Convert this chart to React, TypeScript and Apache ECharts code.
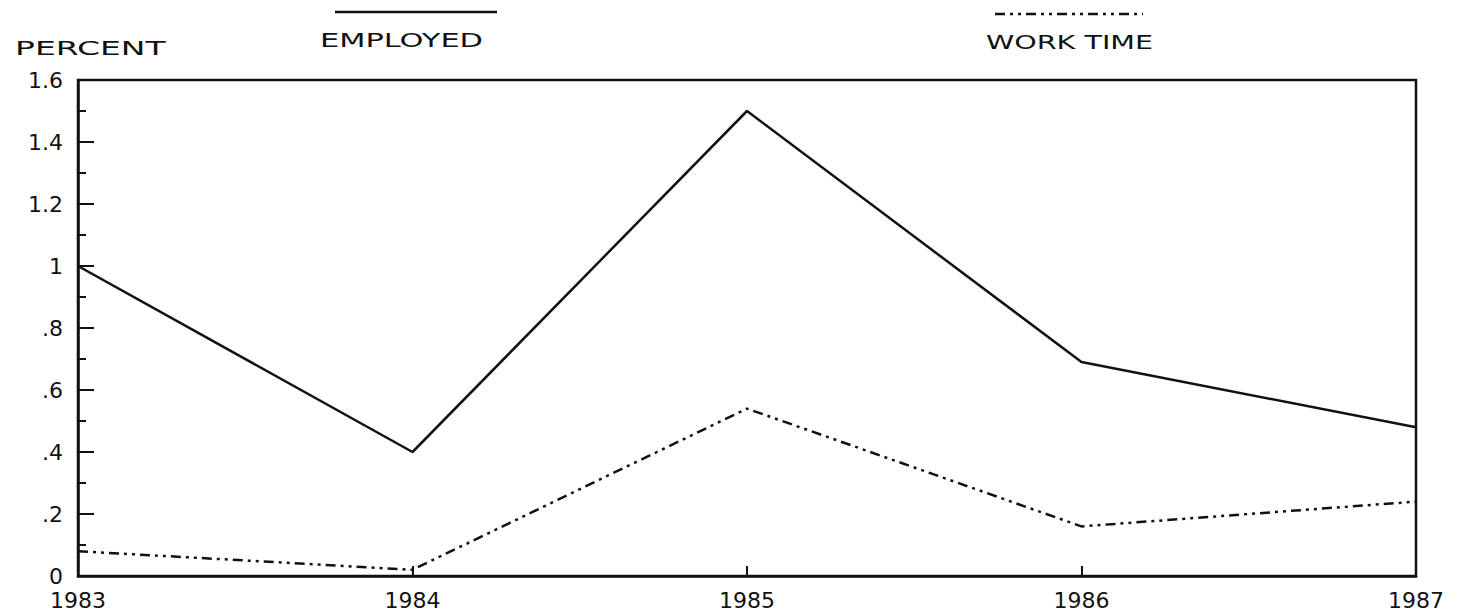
import React, { useEffect, useRef } from "react";
import * as echarts from "echarts";

const years = ["1983", "1984", "1985", "1986", "1987"];
const employed = [1.0, 0.4, 1.5, 0.69, 0.48];
const workTime = [0.08, 0.02, 0.54, 0.16, 0.24];
const yTicks = [0, 0.2, 0.4, 0.6, 0.8, 1, 1.2, 1.4, 1.6];

const FONT = "'DejaVu Sans', sans-serif";
const INK = "#111";
const DASH = [10, 5, 3, 5, 3, 5];

function fmt(v: number): string {
  if (v === 0) return "0";
  const s = String(Math.round(v * 10) / 10);
  return s.startsWith("0.") ? s.slice(1) : s;
}

export default function App() {
  const ref = useRef<HTMLDivElement>(null);
  useEffect(() => {
    if (!ref.current) return;
    const chart = echarts.init(ref.current, null, { renderer: "svg" });
    const label = (text: string, x: number, y: number, sx: number) => ({
      type: "text",
      x,
      y,
      scaleX: sx,
      style: { text, font: `20px ${FONT}`, fill: INK, textVerticalAlign: "top" },
    });
    chart.setOption({
      animation: false,
      backgroundColor: "#fff",
      grid: {
        left: 78,
        right: 48,
        top: 80,
        bottom: 35,
        show: true,
        borderColor: INK,
        borderWidth: 2.5,
        backgroundColor: "transparent",
      },
      xAxis: {
        type: "category",
        data: years,
        boundaryGap: false,
        axisLine: { lineStyle: { color: INK, width: 2.5 } },
        axisTick: { inside: true, length: 10, lineStyle: { color: INK, width: 2 } },
        axisLabel: {
          color: INK,
          fontFamily: FONT,
          fontSize: 22,
          lineHeight: 20,
          margin: 14,
        },
        splitLine: { show: false },
      },
      yAxis: {
        type: "value",
        min: 0,
        max: 1.6,
        interval: 0.2,
        axisLine: { show: true, lineStyle: { color: INK, width: 2.5 } },
        axisTick: { show: true, inside: true, length: 16, lineStyle: { color: INK, width: 2 } },
        minorTick: { show: true, splitNumber: 2, length: 8, lineStyle: { color: INK, width: 2 } },
        axisLabel: {
          color: INK,
          fontFamily: FONT,
          fontSize: 22,
          lineHeight: 18,
          margin: 15,
          formatter: (v: number) => {
            const t = yTicks.find((x) => Math.abs(x - v) < 1e-6);
            return t === undefined ? "" : fmt(t);
          },
        },
        splitLine: { show: false },
      },
      graphic: [
        label("PERCENT", 15, 38, 1.65),
        { type: "line", shape: { x1: 335, y1: 12, x2: 497, y2: 12 }, style: { stroke: INK, lineWidth: 2.5 } },
        label("EMPLOYED", 320, 30, 1.52),
        {
          type: "line",
          shape: { x1: 995, y1: 14, x2: 1143, y2: 14 },
          style: { stroke: INK, lineWidth: 2.5, lineDash: DASH },
        },
        label("WORK TIME", 986, 32, 1.43),
      ],
      series: [
        {
          name: "EMPLOYED",
          type: "line",
          data: employed,
          symbol: "none",
          lineStyle: { color: INK, width: 2.5 },
        },
        {
          name: "WORK TIME",
          type: "line",
          data: workTime,
          symbol: "none",
          lineStyle: { color: INK, width: 2.5, type: DASH },
        },
      ],
    });
    return () => chart.dispose();
  }, []);
  return (
    <div
      ref={ref}
      style={{ position: "fixed", left: 0, top: 0, width: 1464, height: 611 }}
    />
  );
}
